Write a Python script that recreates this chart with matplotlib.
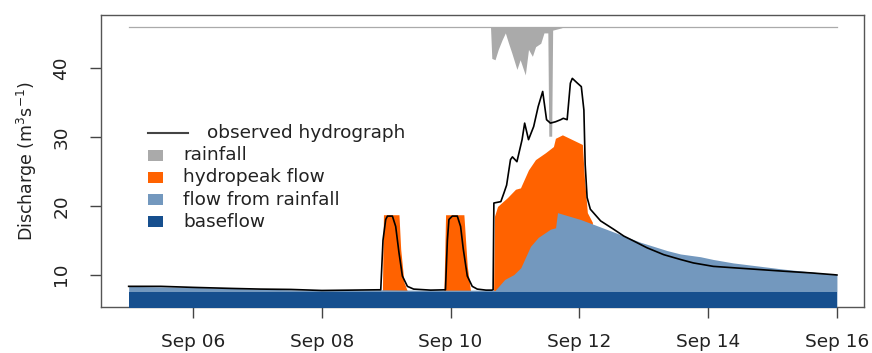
import matplotlib
matplotlib.use("Agg")
import matplotlib.pyplot as plt
import matplotlib.dates as mdates
from matplotlib.patches import Rectangle
import numpy as np
import pandas as pd

plt.rcParams['font.family'] = ['DejaVu Sans']

# time is in days after Sep 05 00:00
start = pd.Timestamp('2015-09-05')

obs_days = [0.0, 0.5, 1.0, 1.59, 2.05, 2.52, 3.0, 3.45, 3.88,
            3.915, 3.95, 3.992, 4.019, 4.096, 4.147, 4.198, 4.251, 4.329, 4.426,
            4.69, 4.92, 4.95, 4.974, 5.026, 5.104, 5.155, 5.197, 5.259, 5.336, 5.414,
            5.55, 5.64, 5.66, 5.672, 5.78, 5.83, 5.87, 5.93, 5.96, 6.03, 6.11, 6.15, 6.21,
            6.29, 6.36, 6.43, 6.49, 6.55, 6.63, 6.71, 6.75, 6.81, 6.86, 6.89, 6.97, 7.03,
            7.07, 7.09, 7.12, 7.17, 7.33, 7.53, 7.69, 7.84, 8.05, 8.31, 8.57, 8.77, 9.08,
            9.39, 9.78, 10.17, 10.6, 10.94, 11.0]
obs_flow = [8.3, 8.3, 8.15, 8.0, 7.9, 7.85, 7.7, 7.75, 7.8,
            7.8, 15.0, 18.0, 18.5, 18.5, 17.0, 13.2, 9.8, 8.3, 7.9,
            7.75, 7.8, 15.0, 18.0, 18.5, 18.5, 17.0, 13.7, 9.8, 8.3, 7.9,
            7.75, 7.75, 7.8, 20.4, 20.6, 21.9, 23.0, 26.7, 27.1, 26.4, 29.6, 32.0, 29.6,
            31.5, 34.4, 36.6, 32.5, 32.0, 32.2, 32.5, 32.7, 32.5, 37.8, 38.5, 37.8, 37.3,
            33.9, 26.0, 21.2, 19.5, 17.8, 16.6, 15.6, 14.9, 13.9, 12.9, 12.2, 11.7, 11.2,
            11.0, 10.75, 10.5, 10.25, 10.0, 9.95]

rain_flow_days = [0.0, 1.0, 2.05, 3.0, 3.45, 3.91, 4.41, 4.94, 5.64, 5.69, 5.84, 5.98, 6.09,
                  6.24, 6.36, 6.55, 6.63, 6.66, 7.02, 7.22, 7.53, 7.95, 8.36, 8.57, 8.88,
                  9.08, 9.39, 10.17, 11.0]
rain_flow = [8.3, 8.15, 7.9, 7.7, 7.75, 7.8, 7.75, 7.75, 7.75, 7.7, 9.3, 10.0, 11.0,
             14.1, 15.4, 16.6, 16.8, 19.0, 18.0, 17.3, 16.2, 14.7, 13.5, 13.0, 12.6,
             12.2, 11.7, 10.8, 10.0]

peak_days = [3.941, 3.957, 4.198, 4.225, 4.276, 4.329,
             4.896, 4.922, 5.206, 5.259, 5.31,
             5.667, 5.682, 5.729, 5.884, 6.008, 6.085, 6.209, 6.318, 6.473, 6.597, 6.628,
             6.736, 7.047, 7.078, 7.124, 7.202]
peak_flow = [7.6, 18.7, 18.7, 13.7, 8.9, 7.6,
             7.6, 18.7, 18.7, 11.2, 7.6,
             7.6, 18.5, 19.9, 21.2, 22.4, 22.6, 25.2, 26.7, 27.7, 28.6, 29.8,
             30.3, 28.9, 24.0, 19.0, 17.6]

rain_days = [5.62, 5.64, 5.69, 5.74, 5.80, 5.85, 5.90, 5.95, 6.03, 6.08, 6.16, 6.21, 6.27,
             6.32, 6.40, 6.45, 6.51, 6.525, 6.57, 6.585, 6.71, 6.74]
rain_drop = [0.0, 4.5, 4.7, 3.2, 1.8, 0.8, 2.3, 3.7, 6.1, 4.7, 6.9, 3.2, 4.2,
             2.8, 2.3, 0.8, 0.8, 15.8, 15.8, 0.4, 0.1, 0.0]

baseflow = 7.45
rain_top = 45.9
series_end = 11.0

gray = '#aaaaaa'
orange = '#ff6200'
light_blue = '#7398be'
dark_blue = '#164f8e'


def to_time(days):
    return start + pd.to_timedelta(np.asarray(days), unit='D')


fig = plt.figure(figsize=(8.72, 3.53), dpi=100)
ax = fig.add_axes([0.1158, 0.1303, 0.8750, 0.8272])

ax.fill_between(to_time(peak_days), baseflow, peak_flow, color=orange, lw=0, zorder=1)
ax.fill_between(to_time(rain_flow_days), 0, rain_flow, color=light_blue, lw=0, zorder=2)
ax.fill_between(to_time([0, series_end]), 0, baseflow, color=dark_blue, lw=0, zorder=3)
ax.plot(to_time(obs_days), obs_flow, color='black', lw=1.2, zorder=4)

ax.plot(to_time([0, series_end]), [rain_top, rain_top], color='#aaaaaa', lw=0.9, zorder=1)
ax.fill_between(to_time(rain_days), rain_top - np.array(rain_drop), rain_top,
                color=gray, lw=0, zorder=1)

ax.set_xlim(to_time([-0.43])[0], to_time([series_end + 0.42])[0])
ax.set_ylim(5.3, 47.7)

ax.xaxis.set_major_locator(mdates.DayLocator(bymonthday=[6, 8, 10, 12, 14, 16]))
ax.xaxis.set_major_formatter(mdates.DateFormatter('%b %d'))
ax.set_yticks([10, 20, 30, 40])
for lab in ax.get_yticklabels():
    lab.set_rotation(90)
    lab.set_va('center')
ax.tick_params(axis='both', direction='out', length=8, width=1, colors='#444444',
               labelcolor='#222222', labelsize=13.3)
ax.tick_params(axis='x', pad=11)
ax.tick_params(axis='y', pad=14)
for s in ax.spines.values():
    s.set_color('#555555')
    s.set_linewidth(1)

ax.set_ylabel('Discharge (m$^3$s$^{-1}$)', fontsize=12.5, color='#222222', labelpad=10)

# legend drawn by hand to keep the R layout (line entry text is shifted)
W, H = 763.0, 292.0
def ax_xy(px, py):
    return (px - 101) / W, (307 - py) / H

x0, y0 = ax_xy(148, 133)
x1, _ = ax_xy(188, 133)
ax.plot([x0, x1], [y0, y0], color='#444444', lw=1.5, transform=ax.transAxes, zorder=5)
tx, _ = ax_xy(207, 133)
ax.text(tx, y0, 'observed hydrograph', transform=ax.transAxes, va='center', ha='left',
        fontsize=13.3, color='#222222')

legend_labels = ['rainfall', 'hydropeak flow', 'flow from rainfall', 'baseflow']
legend_colors = [gray, orange, light_blue, dark_blue]
for i, (lab, col) in enumerate(zip(legend_labels, legend_colors)):
    cy = 155 + i * 22.3
    bx, by = ax_xy(148, cy + 5.5)
    ax.add_patch(Rectangle((bx, by), 15 / W, 11 / H, transform=ax.transAxes,
                           facecolor=col, edgecolor='none', zorder=5))
    lx, ly = ax_xy(183, cy)
    ax.text(lx, ly, lab, transform=ax.transAxes, va='center', ha='left',
            fontsize=13.3, color='#222222')

fig.savefig('out.png', dpi=100)
